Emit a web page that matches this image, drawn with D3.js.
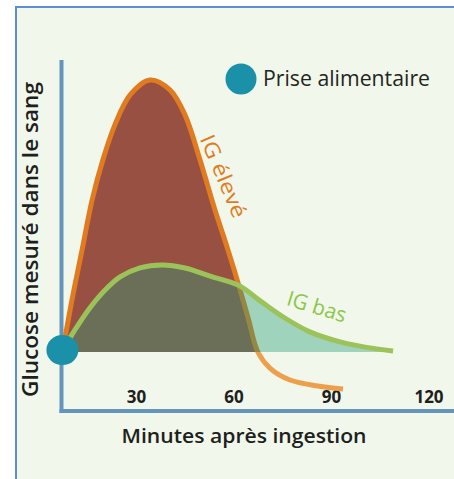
<!DOCTYPE html>
<html>
<head>
<meta charset="utf-8">
<script src="https://cdn.jsdelivr.net/npm/d3@7"></script>
<style>
  html, body { margin: 0; padding: 0; background: #ffffff; }
  svg { display: block; }
  text { font-family: "Open Sans", "Noto Sans", sans-serif; }
</style>
</head>
<body>
<svg id="chart" width="454" height="479"></svg>
<script>
// ---- data ----
const tickMinutes = [30, 60, 90, 120];
const tickLabels = ["30", "60", "90", "120"];

const highMinutes = [7.5, 10.3, 13.4, 16.5, 19.8, 23.5, 28.2, 34.3, 40.5, 45.1, 49.7, 54.3, 58.3, 61.4, 64.5, 67.5, 71.2, 77.4, 86.0, 93.7];
const highGlucose = [0.7, 19.1, 37.5, 55.9, 70.6, 83.5, 94.5, 100, 96.3, 87.1, 70.6, 52.2, 37.5, 25.4, 12.5, 0, -5.9, -10.3, -12.5, -13.6];

const lowMinutes = [7.5, 11.2, 15.8, 20.5, 25.1, 31.2, 38.0, 45.1, 52.8, 61.4, 68.2, 75.8, 83.5, 92.8, 100.5, 109.1];
const lowGlucose = [0.7, 8.1, 16.2, 22.8, 27.6, 30.9, 32.0, 30.9, 27.9, 24.6, 18.8, 12.5, 7.4, 3.7, 1.8, 0.4];

const mealMinute = [7.5];
const mealGlucose = [0.7];

const seriesLabels = ["IG élevé", "IG bas"];
const legendLabel = "Prise alimentaire";
const xTitle = "Minutes après ingestion";
const yTitle = "Glucose mesuré dans le sang";

// ---- layout ----
const svg = d3.select("#chart");
const x = d3.scaleLinear().domain([0, 120]).range([38.5, 428.5]);
const y = d3.scaleLinear().domain([0, 100]).range([352, 80]);

const high = highMinutes.map((m, i) => ({ m, v: highGlucose[i] }));
const highPos = high.filter(d => d.v >= 0);
const low = lowMinutes.map((m, i) => ({ m, v: lowGlucose[i] }));

// frame
svg.append("rect").attr("x", 16).attr("y", 7).attr("width", 470).attr("height", 500)
  .attr("fill", "#f1f7ea").attr("stroke", "#5b8fd0").attr("stroke-width", 2);

// axes lines
const axisColor = "#6594bd";
svg.append("line").attr("x1", 61.5).attr("x2", 61.5).attr("y1", 60).attr("y2", 413)
  .attr("stroke", axisColor).attr("stroke-width", 4);
svg.append("line").attr("x1", 59.5).attr("x2", 460).attr("y1", 411).attr("y2", 411)
  .attr("stroke", axisColor).attr("stroke-width", 4);

// tick labels via axis
const xAxis = d3.axisBottom(x).tickValues(tickMinutes).tickSize(0)
  .tickFormat((d, i) => tickLabels[i]);
const gx = svg.append("g").attr("transform", "translate(0,388)").call(xAxis);
gx.select(".domain").remove();
gx.selectAll("text").attr("font-size", 17).attr("font-weight", 700)
  .attr("fill", "#1d211d").attr("font-family", "'Open Sans', sans-serif");

const curve = d3.curveCatmullRom.alpha(0.5);
const line = d3.line().x(d => x(d.m)).y(d => y(d.v)).curve(curve);
const area = d3.area().x(d => x(d.m)).y0(y(0)).y1(d => y(d.v)).curve(curve);

// high GI area + line
svg.append("path").datum(highPos).attr("d", area).attr("fill", "#985043");
svg.append("clipPath").attr("id", "above").append("rect")
  .attr("x", 0).attr("y", 0).attr("width", 454).attr("height", y(0));
svg.append("clipPath").attr("id", "below").append("rect")
  .attr("x", 0).attr("y", y(0)).attr("width", 454).attr("height", 200);
svg.append("path").datum(high).attr("d", line).attr("fill", "none")
  .attr("stroke", "#e07b20").attr("stroke-width", 5).attr("clip-path", "url(#above)");
svg.append("path").datum(high).attr("d", line).attr("fill", "none")
  .attr("stroke", "#eda04c").attr("stroke-width", 5).attr("clip-path", "url(#below)");

// low GI area + line
svg.append("path").datum(low).attr("d", area).attr("fill", "#289d75").attr("fill-opacity", 0.4);
svg.append("path").datum(low).attr("d", line).attr("fill", "none")
  .attr("stroke", "#9cc35a").attr("stroke-width", 5);

// meal marker
svg.append("ellipse").attr("cx", x(mealMinute[0]) - 0.5).attr("cy", y(mealGlucose[0]))
  .attr("rx", 16).attr("ry", 15).attr("fill", "#1b91a9");

// legend
svg.append("circle").attr("cx", 241).attr("cy", 79).attr("r", 15.5).attr("fill", "#1b91a9");
svg.append("text").attr("x", 263).attr("y", 86).attr("font-size", 22)
  .attr("fill", "#1f261f").attr("textLength", 167).attr("lengthAdjust", "spacingAndGlyphs")
  .text(legendLabel);

// series labels
svg.append("text").attr("transform", "translate(224,176) rotate(67)")
  .attr("text-anchor", "middle").attr("dominant-baseline", "central")
  .attr("font-size", 21).attr("fill", "#e07b20")
  .attr("textLength", 88).attr("lengthAdjust", "spacingAndGlyphs").text(seriesLabels[0]);
svg.append("text").attr("transform", "translate(317,306) rotate(17)")
  .attr("text-anchor", "middle").attr("dominant-baseline", "central")
  .attr("font-size", 21).attr("fill", "#8bc74a")
  .attr("textLength", 61).attr("lengthAdjust", "spacingAndGlyphs").text(seriesLabels[1]);

// axis titles
svg.append("text").attr("x", 244).attr("y", 442.5).attr("text-anchor", "middle")
  .attr("font-size", 20).attr("font-weight", 600).attr("fill", "#1d211d")
  .attr("textLength", 245).attr("lengthAdjust", "spacingAndGlyphs").text(xTitle);
svg.append("text").attr("transform", "translate(38,239.5) rotate(-90)")
  .attr("text-anchor", "middle").attr("font-size", 22).attr("font-weight", 600)
  .attr("fill", "#1d211d").attr("textLength", 315).attr("lengthAdjust", "spacingAndGlyphs")
  .text(yTitle);
</script>
</body>
</html>
